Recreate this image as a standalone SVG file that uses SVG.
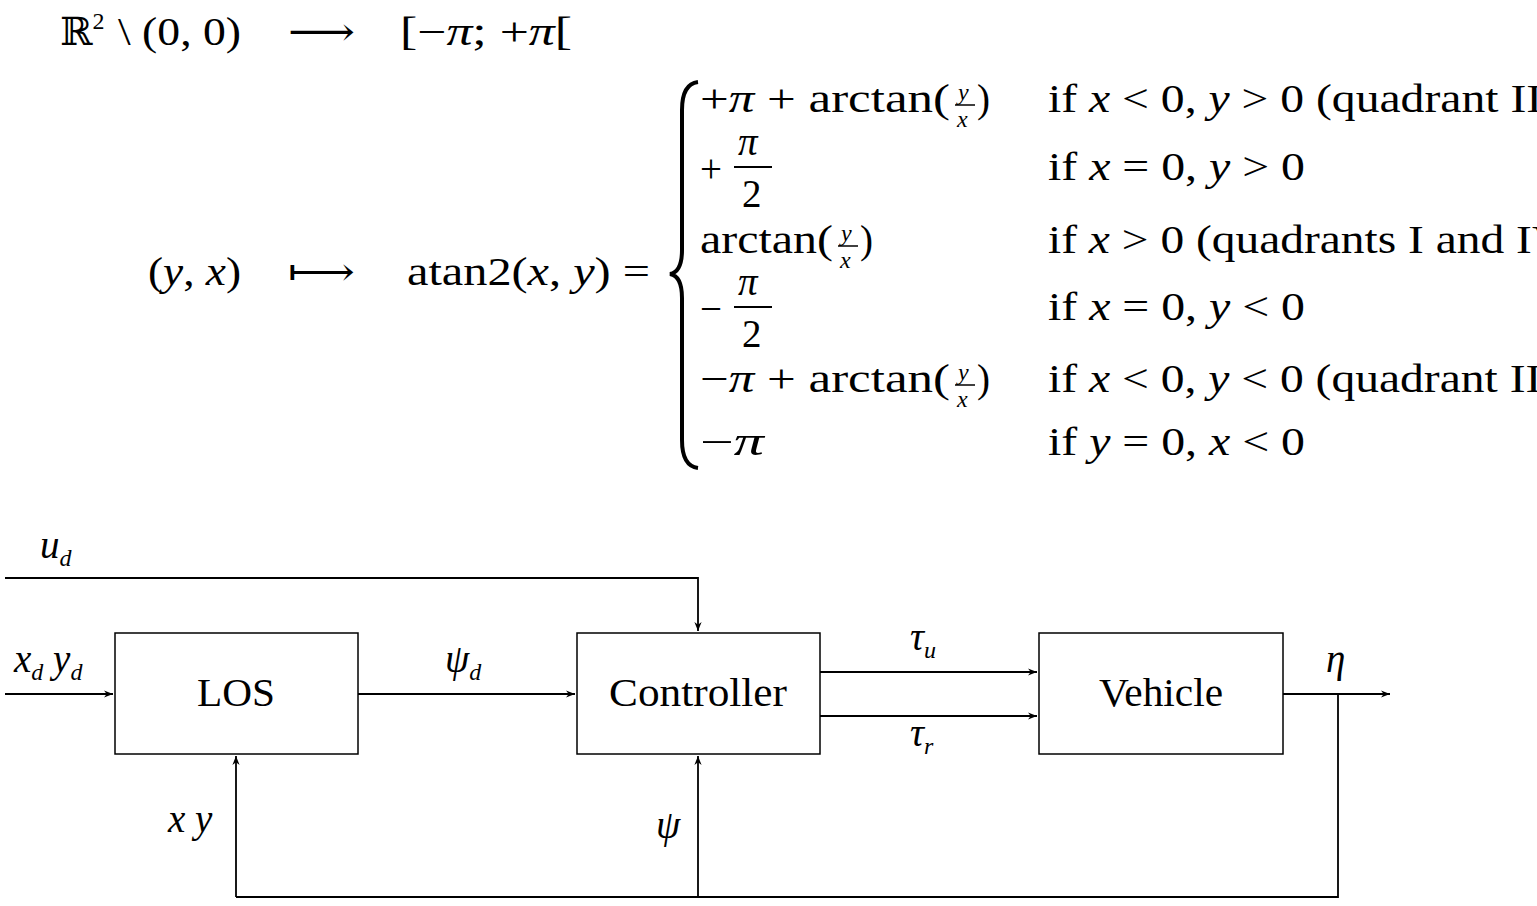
<svg xmlns="http://www.w3.org/2000/svg" width="1537" height="906" viewBox="0 0 1537 906">
<style>
text{font-family:"Liberation Serif","DejaVu Serif",serif;font-size:39px;fill:#000}
.i{font-style:italic}
.s{font-size:24px}
.box{fill:#fff;stroke:#000;stroke-width:1.5}
.ln{fill:none;stroke:#000;stroke-width:1.8}
.arr{fill:none;stroke:#000;stroke-width:1.8;marker-end:url(#ah)}
</style>
<defs><marker id="ah" viewBox="0 0 10 10" refX="10" refY="5" markerWidth="9" markerHeight="9" markerUnits="userSpaceOnUse" orient="auto"><path d="M0,1 L10,5 L0,9 L3,5 Z" fill="#000"/></marker></defs>
<g id="formula">
<text x="60" y="45">ℝ<tspan class="s" dy="-16">2</tspan></text>
<text x="118" y="45" textLength="123" lengthAdjust="spacingAndGlyphs">\ (0, 0)</text>
<text x="288" y="45" textLength="67" lengthAdjust="spacingAndGlyphs">⟶</text>
<text x="400" y="45" textLength="172" lengthAdjust="spacingAndGlyphs">[−<tspan class="i">π</tspan>; +<tspan class="i">π</tspan>[</text>
<text x="148" y="285" textLength="93" lengthAdjust="spacingAndGlyphs">(<tspan class="i">y</tspan>, <tspan class="i">x</tspan>)</text>
<text x="288" y="285" textLength="67" lengthAdjust="spacingAndGlyphs">⟼</text>
<text x="407" y="285" textLength="243" lengthAdjust="spacingAndGlyphs">atan2(<tspan class="i">x</tspan>, <tspan class="i">y</tspan>) =</text>
<path d="M698,82 Q682,84 682,110 L682,250 Q682,272 670,274 Q682,276 682,298 L682,440 Q682,466 698,468" fill="none" stroke="#000" stroke-width="4"/>
<text x="700" y="112" textLength="250" lengthAdjust="spacingAndGlyphs">+<tspan class="i">π</tspan> + arctan(</text><text x="958" y="100" class="i s">y</text><line x1="955" y1="105" x2="975" y2="105" stroke="#000" stroke-width="1.5"/><text x="957" y="127" class="i s">x</text><text x="977" y="112">)</text>
<text x="1048" y="112" textLength="510" lengthAdjust="spacingAndGlyphs">if <tspan class="i">x</tspan> &lt; 0, <tspan class="i">y</tspan> &gt; 0 (quadrant II)</text>
<text x="700" y="182">+</text><text x="738" y="155" class="i">π</text><line x1="734" y1="167" x2="772" y2="167" stroke="#000" stroke-width="2"/><text x="742" y="207">2</text>
<text x="1048" y="180" textLength="257" lengthAdjust="spacingAndGlyphs">if <tspan class="i">x</tspan> = 0, <tspan class="i">y</tspan> &gt; 0</text>
<text x="700" y="253" textLength="133" lengthAdjust="spacingAndGlyphs">arctan(</text><text x="841" y="241" class="i s">y</text><line x1="838" y1="246" x2="858" y2="246" stroke="#000" stroke-width="1.5"/><text x="840" y="268" class="i s">x</text><text x="860" y="253">)</text>
<text x="1048" y="253" textLength="534" lengthAdjust="spacingAndGlyphs">if <tspan class="i">x</tspan> &gt; 0 (quadrants I and IV)</text>
<text x="700" y="322">−</text><text x="738" y="295" class="i">π</text><line x1="734" y1="307" x2="772" y2="307" stroke="#000" stroke-width="2"/><text x="742" y="347">2</text>
<text x="1048" y="320" textLength="257" lengthAdjust="spacingAndGlyphs">if <tspan class="i">x</tspan> = 0, <tspan class="i">y</tspan> &lt; 0</text>
<text x="700" y="392" textLength="250" lengthAdjust="spacingAndGlyphs">−<tspan class="i">π</tspan> + arctan(</text><text x="958" y="380" class="i s">y</text><line x1="955" y1="385" x2="975" y2="385" stroke="#000" stroke-width="1.5"/><text x="957" y="407" class="i s">x</text><text x="977" y="392">)</text>
<text x="1048" y="392" textLength="525" lengthAdjust="spacingAndGlyphs">if <tspan class="i">x</tspan> &lt; 0, <tspan class="i">y</tspan> &lt; 0 (quadrant III)</text>
<text x="700" y="455" textLength="64" lengthAdjust="spacingAndGlyphs">−<tspan class="i">π</tspan></text>
<text x="1048" y="455" textLength="257" lengthAdjust="spacingAndGlyphs">if <tspan class="i">y</tspan> = 0, <tspan class="i">x</tspan> &lt; 0</text>
</g>
<g id="connectors">
<path class="arr" d="M5,578 L698,578 L698,631"/>
<path class="arr" d="M5,694 L113,694"/>
<path class="arr" d="M358,694 L575,694"/>
<path class="arr" d="M820,672 L1037,672"/>
<path class="arr" d="M820,716 L1037,716"/>
<path class="arr" d="M1283,694 L1390,694"/>
<path class="ln" d="M1338,694 L1338,897 L236,897"/>
<path class="arr" d="M236,897 L236,756"/>
<path class="arr" d="M698,897 L698,756"/>
<text x="40" y="558" class="i">u<tspan class="s" dy="8">d</tspan></text>
<text x="14" y="672" class="i">x<tspan class="s" dy="8">d</tspan><tspan dy="-8"> y</tspan><tspan class="s" dy="8">d</tspan></text>
<text x="445" y="672" class="i">ψ<tspan class="s" dy="8">d</tspan></text>
<text x="910" y="650" class="i">τ<tspan class="s" dy="8">u</tspan></text>
<text x="910" y="746" class="i">τ<tspan class="s" dy="8">r</tspan></text>
<text x="1326" y="672" class="i">η</text>
<text x="168" y="832" class="i">x y</text>
<text x="656" y="838" class="i">ψ</text>
</g>
<g id="los"><rect class="box" x="115" y="633" width="243" height="121"/><text x="197" y="706" textLength="78" lengthAdjust="spacingAndGlyphs">LOS</text></g>
<g id="controller"><rect class="box" x="577" y="633" width="243" height="121"/><text x="609" y="706" textLength="178" lengthAdjust="spacingAndGlyphs">Controller</text></g>
<g id="vehicle"><rect class="box" x="1039" y="633" width="244" height="121"/><text x="1099" y="706" textLength="124" lengthAdjust="spacingAndGlyphs">Vehicle</text></g>
</svg>
